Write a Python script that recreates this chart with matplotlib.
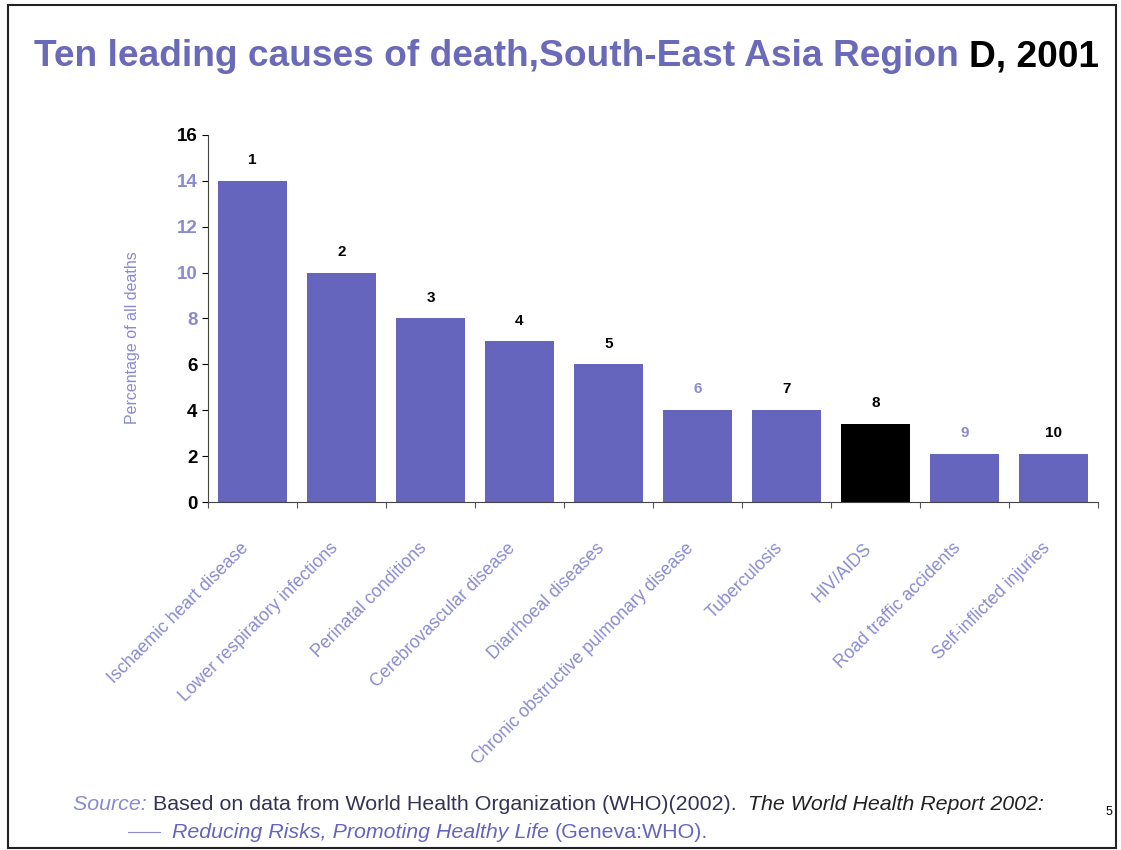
import matplotlib
matplotlib.use('Agg')
import numpy as np
import matplotlib.pyplot as plt
from matplotlib.patches import Rectangle

plt.rcParams['font.family'] = ['Liberation Sans', 'DejaVu Sans']

causes = ['Ischaemic heart disease', 'Lower respiratory infections', 'Perinatal conditions',
          'Cerebrovascular disease', 'Diarrhoeal diseases', 'Chronic obstructive pulmonary disease',
          'Tuberculosis', 'HIV/AIDS', 'Road traffic accidents', 'Self-inflicted injuries']
pct_deaths = [14.0, 10.0, 8.0, 7.0, 6.0, 4.0, 4.0, 3.4, 2.1, 2.1]
ranks = ['1', '2', '3', '4', '5', '6', '7', '8', '9', '10']
yticks = [0, 2, 4, 6, 8, 10, 12, 14, 16]

PURPLE = '#6565bd'
LIGHT = '#8a8ad0'

fig = plt.figure(figsize=(11.21, 8.5), dpi=100, facecolor='white')
ax = fig.add_axes([0.1855, 0.4094, 0.794, 0.4318])

x = np.arange(len(causes))
colors = [PURPLE] * len(causes)
colors[7] = 'black'
ax.bar(x, pct_deaths, width=0.77, color=colors)

for xi, v, r in zip(x, pct_deaths, ranks):
    c = LIGHT if r in ('6', '9') else 'black'
    ax.text(xi, v + 0.6, r, ha='center', va='bottom', fontsize=11, fontweight='bold', color=c)

ax.set_xlim(-0.5, len(causes) - 0.5)
ax.set_ylim(0, 16)
ax.set_yticks(yticks)
ax.set_yticklabels([str(t) for t in yticks], fontsize=13.5, fontweight='bold')
for t, lab in zip(yticks, ax.get_yticklabels()):
    lab.set_color(LIGHT if t in (8, 10, 12, 14) else 'black')

# ticks sit between the bars
ax.set_xticks(np.arange(-0.5, len(causes), 1.0))
ax.set_xticklabels([])
ax.tick_params(axis='x', length=4, width=0.8, direction='out', colors='#555555')
ax.tick_params(axis='y', length=4, width=0.8, direction='out')
for s in ('top', 'right'):
    ax.spines[s].set_visible(False)
ax.spines['left'].set_color('#444444')
ax.spines['bottom'].set_color('#444444')
ax.spines['left'].set_linewidth(0.8)
ax.spines['bottom'].set_linewidth(0.8)

for xi, name in zip(x, causes):
    ax.text(xi - 0.07, -1.9, name, rotation=45, rotation_mode='anchor', ha='right', va='center',
            fontsize=12.8, color=LIGHT, transform=ax.transData)

ax.set_ylabel('Percentage of all deaths', fontsize=11.5, color=LIGHT)
ax.yaxis.set_label_coords(-0.076, 0.447)

fig.canvas.draw()
renderer = fig.canvas.get_renderer()


def run_text(x0, y0, pieces, **kw):
    # write consecutive pieces of text on one line, each with its own style
    xpos = x0
    for s, style in pieces:
        t = fig.text(xpos, y0, s, transform=None, **kw, **style)
        bb = t.get_window_extent(renderer)
        xpos = bb.x1
    return xpos


H = 850
run_text(34, H - 57, [('Ten leading causes of death,South-East Asia Region ', dict(color='#6a6ab8')),
                      ('D, 2001', dict(color='black'))],
         fontsize=26.7, fontweight='bold', va='center')

run_text(73, H - 805, [('Source: ', dict(color=LIGHT, style='italic')),
                       ('Based on data from World Health Organization (WHO)(2002).  ', dict(color='#333355')),
                       ('The World Health Report 2002:', dict(color='#222222', style='italic'))],
         fontsize=15.4, va='center')
run_text(172, H - 832, [('Reducing Risks, Promoting Healthy Life ', dict(color=PURPLE, style='italic')),
                        ('(Geneva:WHO).', dict(color=PURPLE))],
         fontsize=15.4, va='center')
fig.text(1106, H - 812, '5', transform=None, fontsize=9, color='black', va='center')
fig.lines.append(plt.Line2D([128, 160], [H - 832, H - 832], transform=None, color=LIGHT, lw=0.8))

# slide frame
fig.patches.append(Rectangle((8, 2), 1108, 843, transform=None, fill=False,
                             edgecolor='#222222', linewidth=1.5))

fig.savefig('out.png', dpi=100, facecolor='white')
